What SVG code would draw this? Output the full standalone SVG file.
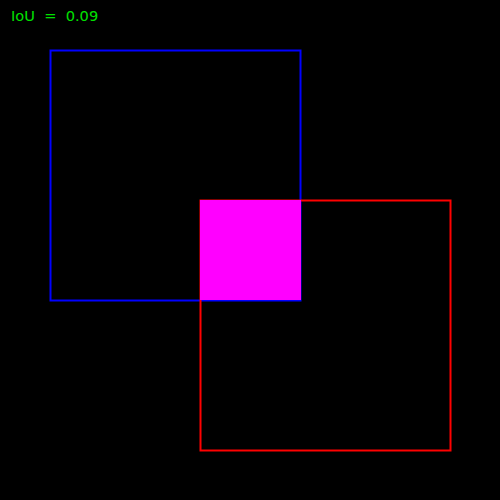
<svg xmlns="http://www.w3.org/2000/svg" width="500" height="500" viewBox="0 0 500 500">
<style>
.box{fill:none;stroke-width:2}
.lbl{font-family:"DejaVu Sans",sans-serif;font-size:14.6px;fill:#00e000}
</style>
<rect x="0" y="0" width="500" height="500" fill="#000"/>
<g id="boxA"><rect class="box" x="50.5" y="50.5" width="250" height="250" stroke="#0000ff"/></g>
<g id="boxB"><rect class="box" x="200.5" y="200.5" width="250" height="250" stroke="#ff0000"/></g>
<g id="intersection"><rect x="200" y="200" width="101" height="100" fill="#ff00ff"/></g>
<g id="label"><text class="lbl" x="11" y="21" xml:space="preserve">IoU  =  0.09</text></g>
</svg>
